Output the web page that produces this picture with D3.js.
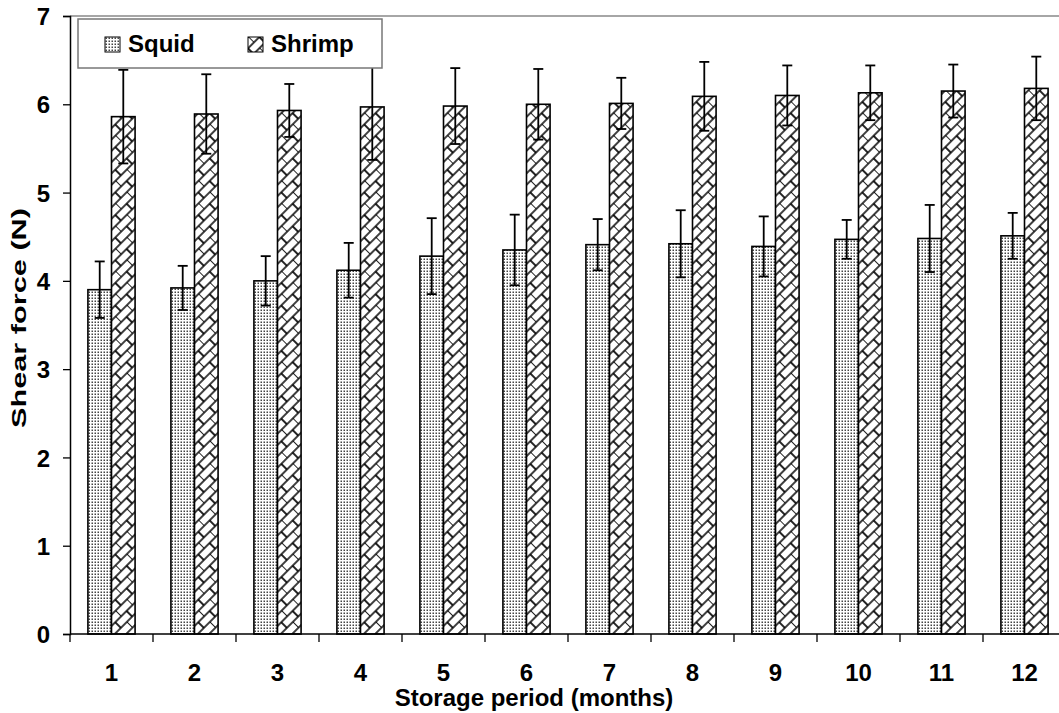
<!DOCTYPE html>
<html>
<head>
<meta charset="utf-8">
<script src="https://cdn.jsdelivr.net/npm/d3@7"></script>
<style>
  body { margin: 0; background: #fff; }
  text { font-family: Arial, "Liberation Sans", sans-serif; font-weight: bold; fill: #000; }
</style>
</head>
<body>
<div class="canvas"></div>
<script>
// data
const months = ['1', '2', '3', '4', '5', '6', '7', '8', '9', '10', '11', '12'];
const seriesNames = ['Squid', 'Shrimp'];
const squidMean = [3.90, 3.92, 4.00, 4.12, 4.28, 4.35, 4.41, 4.42, 4.39, 4.47, 4.48, 4.51];
const squidErr = [0.32, 0.25, 0.28, 0.31, 0.43, 0.40, 0.29, 0.38, 0.34, 0.22, 0.38, 0.26];
const shrimpMean = [5.86, 5.89, 5.93, 5.97, 5.98, 6.00, 6.01, 6.09, 6.10, 6.13, 6.15, 6.18];
const shrimpErr = [0.53, 0.45, 0.30, 0.60, 0.43, 0.40, 0.29, 0.39, 0.34, 0.31, 0.30, 0.36];
const yTicks = [0, 1, 2, 3, 4, 5, 6, 7];

const rows = months.map((m, i) => ({
  month: m,
  values: [
    { name: 'Squid', mean: squidMean[i], err: squidErr[i] },
    { name: 'Shrimp', mean: shrimpMean[i], err: shrimpErr[i] }
  ]
}));

const svg = d3.select('.canvas')
  .append('svg')
  .attr('width', 1059)
  .attr('height', 713);

const margin = { left: 70, top: 16, right: 1066, bottom: 634 };

const x = d3.scaleBand().domain(months).range([margin.left, margin.right]).padding(0);
const xs = d3.scaleBand().domain(seriesNames).range([0, x.bandwidth()])
  .paddingInner(0).paddingOuter(0.76);
const y = d3.scaleLinear().domain([0, 7]).range([margin.bottom, margin.top]);

// patterns
const defs = svg.append('defs');
const dots = defs.append('pattern')
  .attr('id', 'dots')
  .attr('patternUnits', 'userSpaceOnUse')
  .attr('width', 3).attr('height', 3);
dots.append('rect').attr('width', 3).attr('height', 3).attr('fill', '#fff');
dots.append('rect').attr('x', 0.5).attr('y', 0.5).attr('width', 1.5).attr('height', 1.5).attr('fill', '#444');

const brick = defs.append('pattern')
  .attr('id', 'brick')
  .attr('patternUnits', 'userSpaceOnUse')
  .attr('width', 16).attr('height', 16)
  .attr('patternTransform', 'rotate(-45)');
brick.append('rect').attr('width', 16).attr('height', 16).attr('fill', '#fff');
brick.append('path')
  .attr('d', 'M0,0H16M0,8H16M0,16H16M0,0V8M8,8V16')
  .attr('stroke', '#000')
  .attr('stroke-width', 1.7)
  .attr('fill', 'none');

const fills = { Squid: 'url(#dots)', Shrimp: 'url(#brick)' };

// top frame line
svg.append('line')
  .attr('x1', margin.left).attr('x2', margin.right)
  .attr('y1', y(7)).attr('y2', y(7))
  .attr('stroke', '#888').attr('stroke-width', 1.5);

// bars
const groups = svg.append('g').selectAll('g')
  .data(rows)
  .join('g')
  .attr('transform', d => `translate(${x(d.month)},0)`);

groups.selectAll('rect')
  .data(d => d.values)
  .join('rect')
  .attr('x', d => xs(d.name))
  .attr('y', d => y(d.mean))
  .attr('width', xs.bandwidth())
  .attr('height', d => y(0) - y(d.mean))
  .attr('fill', d => fills[d.name])
  .attr('stroke', '#000')
  .attr('stroke-width', 1.6);

// y axis
const yAxis = svg.append('g')
  .attr('transform', `translate(${margin.left},0)`)
  .call(d3.axisLeft(y).tickValues(yTicks).tickFormat(d3.format('d')).tickSize(7).tickPadding(13));
yAxis.select('.domain').attr('stroke', '#000').attr('stroke-width', 1.5);
yAxis.selectAll('.tick line').attr('stroke-width', 1.3);
yAxis.selectAll('text').style('font-size', '24px').attr('dy', '0.36em');

// x axis: ticks on category boundaries
const xAxis = svg.append('g')
  .attr('transform', `translate(0,${margin.bottom})`);
xAxis.append('line')
  .attr('x1', margin.left).attr('x2', margin.right)
  .attr('stroke', '#000').attr('stroke-width', 1.5);
xAxis.selectAll('.tk')
  .data(months)
  .join('line')
  .attr('class', 'tk')
  .attr('x1', d => x(d)).attr('x2', d => x(d))
  .attr('y1', 0).attr('y2', 8)
  .attr('stroke', '#000').attr('stroke-width', 1.3);
xAxis.selectAll('.lbl')
  .data(months)
  .join('text')
  .attr('class', 'lbl')
  .attr('x', d => x(d) + x.bandwidth() / 2)
  .attr('y', 47)
  .attr('text-anchor', 'middle')
  .style('font-size', '24px')
  .text(d => d);

// error bars
const eb = groups.selectAll('g.err')
  .data(d => d.values)
  .join('g')
  .attr('class', 'err')
  .attr('transform', d => `translate(${xs(d.name) + xs.bandwidth() / 2},0)`)
  .attr('stroke', '#000')
  .attr('stroke-width', 1.8);
eb.append('line')
  .attr('y1', d => y(d.mean + d.err)).attr('y2', d => y(d.mean - d.err));
eb.append('line')
  .attr('x1', -5).attr('x2', 5)
  .attr('y1', d => y(d.mean + d.err)).attr('y2', d => y(d.mean + d.err));
eb.append('line')
  .attr('x1', -5).attr('x2', 5)
  .attr('y1', d => y(d.mean - d.err)).attr('y2', d => y(d.mean - d.err));

// axis titles
svg.append('text')
  .attr('x', 534).attr('y', 706)
  .attr('text-anchor', 'middle')
  .style('font-size', '24px')
  .text('Storage period (months)');

svg.append('text')
  .attr('transform', 'translate(26,318) rotate(-90)')
  .attr('text-anchor', 'middle')
  .attr('textLength', 220)
  .attr('lengthAdjust', 'spacingAndGlyphs')
  .style('font-size', '21px')
  .text('Shear force (N)');

// legend
const legend = svg.append('g').attr('transform', 'translate(78,19)');
legend.append('rect')
  .attr('width', 304).attr('height', 49)
  .attr('fill', '#fff')
  .attr('stroke', '#777').attr('stroke-width', 1.5);
const lx = d3.scaleOrdinal().domain(seriesNames).range([27, 170]);
const items = legend.selectAll('g.item')
  .data(seriesNames)
  .join('g')
  .attr('class', 'item')
  .attr('transform', d => `translate(${lx(d)},18)`);
items.append('rect')
  .attr('width', 15).attr('height', 15)
  .attr('fill', d => fills[d])
  .attr('stroke', '#000').attr('stroke-width', 1);
items.append('text')
  .attr('x', 23).attr('y', 15)
  .style('font-size', '24px')
  .text(d => d);
</script>
</body>
</html>
